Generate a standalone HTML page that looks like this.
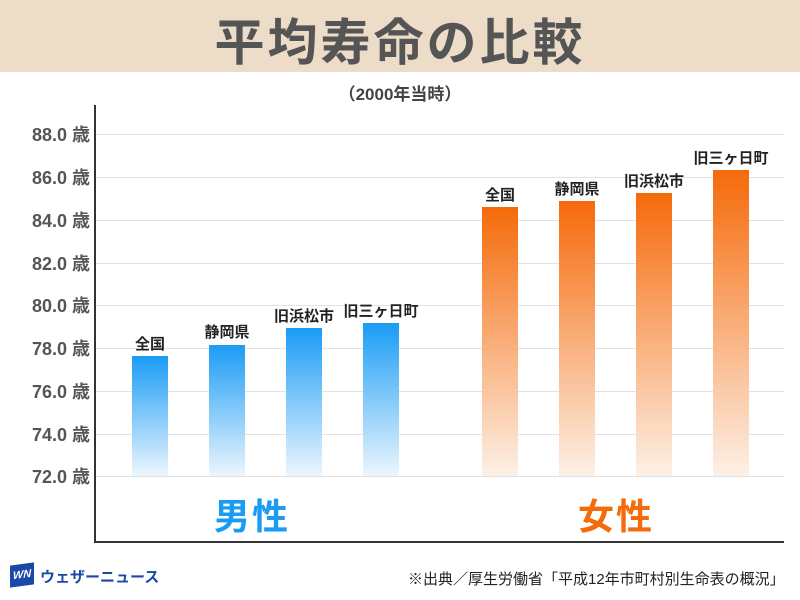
<!DOCTYPE html>
<html><head><meta charset="utf-8"><style>
body{margin:0;width:800px;height:600px;background:#fff;position:relative;overflow:hidden;font-family:"Liberation Sans","Noto Sans CJK JP",sans-serif}
.t{position:absolute;white-space:nowrap}
.band{position:absolute;left:0;top:0;width:800px;height:72px;background:#ecdcc8}
.g{position:absolute;left:96px;width:688px;height:1px;background:#e2e2e2}
.y{position:absolute;left:8px;width:82px;text-align:right;font-size:18px;font-weight:bold;color:#555}
.b{position:absolute;width:36px;bottom:124px}
.m{background:linear-gradient(#1a9cf5,#ecf6fe)}
.f{background:linear-gradient(#f56a0a,#fdf0e6)}
.l{position:absolute;font-size:15px;font-weight:bold;color:#222;width:100px;text-align:center}
</style></head><body>
<div class="band"></div>
<div class="t" style="left:0;width:800px;top:3px;text-align:center;font-size:50px;font-weight:bold;color:#555;letter-spacing:3px">平均寿命の比較</div>
<div class="t" style="left:0;width:800px;top:80px;text-align:center;font-size:17px;font-weight:bold;color:#444">（2000年当時）</div>
<div class="g" style="top:134px"></div><div class="g" style="top:177px"></div><div class="g" style="top:220px"></div><div class="g" style="top:263px"></div><div class="g" style="top:305px"></div><div class="g" style="top:348px"></div><div class="g" style="top:391px"></div><div class="g" style="top:434px"></div><div class="g" style="top:476px"></div>
<div style="position:absolute;left:94px;top:105px;width:2px;height:438px;background:#333"></div>
<div style="position:absolute;left:94px;top:541px;width:690px;height:2px;background:#333"></div>
<div class="y t" style="top:121px">88.0 歳</div><div class="y t" style="top:164px">86.0 歳</div><div class="y t" style="top:207px">84.0 歳</div><div class="y t" style="top:250px">82.0 歳</div><div class="y t" style="top:292px">80.0 歳</div><div class="y t" style="top:335px">78.0 歳</div><div class="y t" style="top:378px">76.0 歳</div><div class="y t" style="top:421px">74.0 歳</div><div class="y t" style="top:463px">72.0 歳</div>
<div class="b m" style="left:132px;top:356px"></div><div class="b m" style="left:209px;top:345px"></div><div class="b m" style="left:286px;top:328px"></div><div class="b m" style="left:363px;top:323px"></div>
<div class="b f" style="left:482px;top:207px"></div><div class="b f" style="left:559px;top:201px"></div><div class="b f" style="left:636px;top:193px"></div><div class="b f" style="left:713px;top:170px"></div>
<div class="l t" style="left:100px;top:333px">全国</div><div class="l t" style="left:177px;top:321px">静岡県</div><div class="l t" style="left:254px;top:305px">旧浜松市</div><div class="l t" style="left:331px;top:300px">旧三ヶ日町</div>
<div class="l t" style="left:450px;top:184px">全国</div><div class="l t" style="left:527px;top:178px">静岡県</div><div class="l t" style="left:604px;top:170px">旧浜松市</div><div class="l t" style="left:681px;top:147px">旧三ヶ日町</div>
<div class="t" style="left:214px;top:488px;font-size:36px;font-weight:bold;color:#1a9cf5;letter-spacing:2px">男性</div>
<div class="t" style="left:578px;top:488px;font-size:36px;font-weight:bold;color:#f56a0a;letter-spacing:2px">女性</div>
<div style="position:absolute;left:10px;top:564px;width:24px;height:22px;background:#1a48a8;transform:skewY(-8deg);color:#fff;font-size:11px;font-weight:bold;font-style:italic;text-align:center;line-height:22px">WN</div>
<div class="t" style="left:40px;top:566px;font-size:15px;font-weight:bold;color:#1a48a8">ウェザーニュース</div>
<div class="t" style="left:408px;top:568px;font-size:15px;color:#222">※出典／厚生労働省「平成12年市町村別生命表の概況」</div>
</body></html>
